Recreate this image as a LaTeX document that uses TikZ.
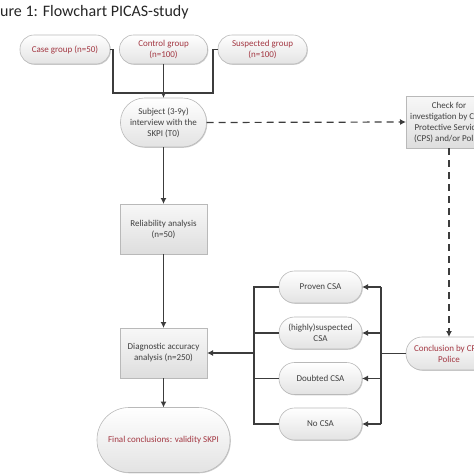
\documentclass[tikz,border=0pt]{standalone}
\usepackage{fontspec}
\setmainfont{Carlito}
\usetikzlibrary{arrows.meta,shadows,calc}
\definecolor{txtred}{RGB}{163,55,66}
\definecolor{txtgray}{RGB}{64,64,64}
\definecolor{linegray}{RGB}{60,60,60}
\definecolor{bordergray}{RGB}{185,185,185}
\begin{document}
\begin{tikzpicture}[x=1pt,y=-1pt,
  box/.style={draw=bordergray, line width=0.6pt, top color=white, bottom color=black!11,
    drop shadow={shadow xshift=0.8pt, shadow yshift=-0.8pt, opacity=0.2, fill=black},
    font=\fontsize{9}{11}\selectfont, text=txtgray, align=center, inner sep=0pt, outer sep=0pt},
  pill/.style={box, rounded corners=#1},
  rectbox/.style={box, top color=black!3, bottom color=black!13},
  conn/.style={draw=linegray, line width=1.2pt},
  arr/.style={conn, -{Latex[length=6pt,width=6pt]}},
  dasharr/.style={arr, dash pattern=on 7pt off 5pt},
]
\useasboundingbox (0,0) rectangle (474,474);
\clip (0,0) rectangle (474,474);

\node[anchor=base west, font=\fontsize{16}{18}\selectfont, text=black!85, inner sep=0pt] (title) at (0,16.5) {ure 1: Flowchart PICAS-study};

% top groups
\node[pill=14pt, minimum width=90pt, minimum height=29pt, text=txtred] (case) at (65,49.5) {Case group (n=50)};
\node[pill=14pt, minimum width=88pt, minimum height=29pt, text=txtred] (control) at (163.5,49.5) {Control group\\(n=100)};
\node[pill=14pt, minimum width=89pt, minimum height=29pt, text=txtred] (susp) at (262.5,49.5) {Suspected group\\(n=100)};

\node[pill=24pt, minimum width=86pt, minimum height=49pt] (subject) at (163.5,122.5) {Subject (3-9y)\\interview with the\\SKPI (T0)};
\node[rectbox, minimum width=86pt, minimum height=52pt] (check) at (449,122) {Check for\\investigation by Child\\Protective Services\\(CPS) and/or Police};

\node[rectbox, minimum width=87pt, minimum height=50pt] (reli) at (163.5,229) {Reliability analysis\\(n=50)};
\node[rectbox, minimum width=87pt, minimum height=50pt] (diag) at (163.5,353) {Diagnostic accuracy\\analysis (n=250)};
\node[pill=32pt, minimum width=133pt, minimum height=65pt, text=txtred] (final) at (163.5,440) {Final conclusions: validity SKPI};

\node[pill=15.5pt, minimum width=83pt, minimum height=32pt] (proven) at (320.5,287) {Proven CSA};
\node[pill=15.5pt, minimum width=83pt, minimum height=32pt] (highly) at (320.5,333) {(highly)suspected\\CSA};
\node[pill=15.5pt, minimum width=83pt, minimum height=32pt] (doubted) at (320.5,378.5) {Doubted CSA};
\node[pill=15.5pt, minimum width=83pt, minimum height=32pt] (nocsa) at (320.5,424) {No CSA};

\node[pill=16pt, minimum width=86pt, minimum height=33pt, text=txtred] (concl) at (449,353.5) {Conclusion by CPS/\\Police};

% connectors
\coordinate (j) at (163.5,93);
\draw[conn] (case.east) -- ++(3,0) |- (j);
\draw[conn] (susp.west) -- ++(-5,0) |- (j);
\draw[arr] (control.south) -- (subject.north);
\draw[dasharr] (subject.east) -- (check.west);
\draw[arr] (subject.south) -- (reli.north);
\draw[arr] (reli.south) -- (diag.north);
\draw[arr] (diag.south) -- (final.north);
\draw[dasharr] (check.south) -- (concl.north);

\coordinate (lb1) at (254,287);
\coordinate (lb4) at (254,424);
\coordinate (rb1) at (381,287);
\coordinate (rb4) at (381,424);
\draw[conn] (proven.west) -- (lb1) -- (lb4) -- (nocsa.west);
\draw[conn] (highly.west) -- (highly.west -| lb1);
\draw[conn] (doubted.west) -- (doubted.west -| lb1);
\draw[arr] (lb1 |- diag.east) -- (diag.east);

\draw[conn] (rb1) -- (rb4);
\draw[arr] (rb1) -- (proven.east);
\draw[arr] (highly.east -| rb1) -- (highly.east);
\draw[arr] (doubted.east -| rb1) -- (doubted.east);
\draw[arr] (rb4) -- (nocsa.east);
\draw[conn] (concl.west) -- (concl.west -| rb1);
\end{tikzpicture}
\end{document}
